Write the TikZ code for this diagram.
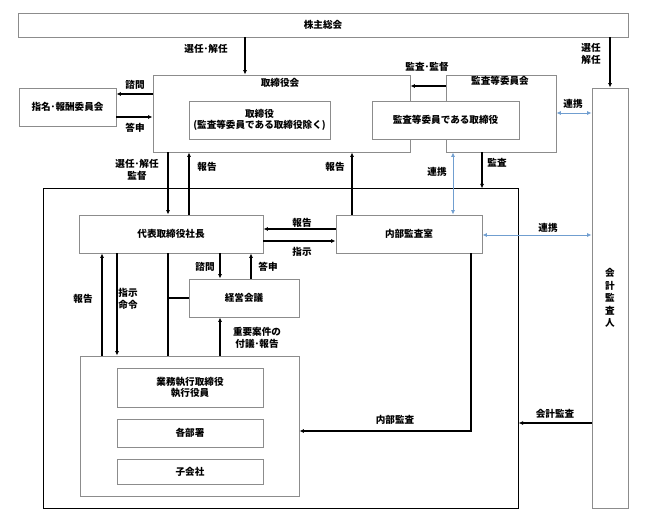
\documentclass[tikz,border=0pt]{standalone}
\usepackage{fontspec}
\setmainfont{Noto Sans CJK JP}
\usetikzlibrary{arrows.meta}
\definecolor{linkblue}{RGB}{112,158,208}
\definecolor{boxgray}{RGB}{140,140,140}

\begin{document}
\begin{tikzpicture}
[%%%%%%%%%%%%%%%%%%%%%%%%%%%%%%
x=1pt,y=-1pt,
box/.style={rectangle,draw=boxgray,line width=0.9pt,inner sep=0pt,align=center},
bigbox/.style={rectangle,draw=black,line width=1pt},
txt/.style={inner sep=0pt,align=center},
arr/.style={-{Latex[length=4.5pt,width=4pt]},line width=1.1pt},
plainline/.style={line width=1.1pt},
link/.style={{Latex[length=4.5pt,width=4pt]}-{Latex[length=4.5pt,width=4pt]},draw=linkblue,line width=0.8pt},
font=\fontsize{9.6}{11.5}\selectfont\bfseries,
]%%%%%%%%%%%%%%%%%%%%%%%%%%%%%%
\useasboundingbox (0,0) rectangle (647,521);

\node[bigbox,minimum width=475pt,minimum height=319pt] (big) at (280.5,348.5){};

\node[box,minimum width=610pt,minimum height=24pt] (soukai) at (323,25){株主総会};
\node[box,minimum width=257pt,minimum height=77pt] (torikai) at (281.5,113.5){};
\node[box,minimum width=110pt,minimum height=77pt] (kansa) at (501,113.5){};
\node[txt] (torilab) at (280,83){取締役会};
\node[txt] (kansalab) at (500,81){監査等委員会};
\node[box,fill=white,minimum width=141pt,minimum height=38pt] (torishimari) at (259.5,120){取締役\\(監査等委員である取締役除く)};
\node[box,fill=white,minimum width=147pt,minimum height=38pt] (kansayaku) at (445.5,120){監査等委員である取締役};
\node[box,minimum width=97pt,minimum height=38pt] (shimei) at (67.5,107){指名･報酬委員会};
\node[box,minimum width=36pt,minimum height=420pt,font=\fontsize{9.6}{12.5}\selectfont\bfseries] (kaikei) at (610,298){会\\計\\監\\査\\人};

\node[box,fill=white,minimum width=184pt,minimum height=38pt] (daihyo) at (171,234){代表取締役社長};
\node[box,fill=white,minimum width=146pt,minimum height=38pt] (naibu) at (409,234){内部監査室};
\node[box,fill=white,minimum width=110pt,minimum height=38pt] (keiei) at (244,298){経営会議};
\node[box,fill=white,minimum width=219pt,minimum height=140pt] (gyomu) at (189.5,426){};
\node[box,minimum width=146pt,minimum height=39pt] (shikkou) at (190,387.5){業務執行取締役\\執行役員};
\node[box,minimum width=146pt,minimum height=28pt] (kakubu) at (190,433){各部署};
\node[box,minimum width=146pt,minimum height=25pt] (kogaisha) at (190,471.5){子会社};

% line positions
\coordinate (vSen) at (245,0);
\coordinate (vKan) at (168,0);
\coordinate (vHo1) at (189,0);
\coordinate (vHo2) at (352,0);
\coordinate (vRen) at (453,0);
\coordinate (vAud) at (482,0);
\coordinate (vHo3) at (102,0);
\coordinate (vShi) at (117,0);
\coordinate (vShm) at (220,0);
\coordinate (vTos) at (251,0);
\coordinate (vNai) at (471,0);
\coordinate (hKan) at (0,86);
\coordinate (hShm) at (0,94);
\coordinate (hTos) at (0,117);
\coordinate (hRen1) at (0,113);
\coordinate (hHo) at (0,229);
\coordinate (hShi) at (0,241);
\coordinate (hRen2) at (0,235);
\coordinate (hNai) at (0,431);
\coordinate (hKai) at (0,423);

% top
\draw[arr] (vSen |- soukai.south) -- (vSen |- torikai.north);
\draw[arr] (soukai.south -| kaikei.north) -- (kaikei.north);
\draw[arr] (kansa.west |- hKan) -- (torikai.east |- hKan);
\draw[arr] (torikai.west |- hShm) -- (shimei.east |- hShm);
\draw[arr] (shimei.east |- hTos) -- (torikai.west |- hTos);
\draw[link] (kansa.east |- hRen1) -- (kaikei.west |- hRen1);

% middle
\draw[arr] (vKan |- torikai.south) -- (vKan |- daihyo.north);
\draw[arr] (vHo1 |- daihyo.north) -- (vHo1 |- torikai.south);
\draw[arr] (vHo2 |- naibu.north) -- (vHo2 |- torikai.south);
\draw[link] (vRen |- kansa.south) -- (vRen |- naibu.north);
\draw[arr] (vAud |- kansa.south) -- (vAud |- big.north);
\draw[arr] (naibu.west |- hHo) -- (daihyo.east |- hHo);
\draw[arr] (daihyo.east |- hShi) -- (naibu.west |- hShi);
\draw[link] (naibu.east |- hRen2) -- (kaikei.west |- hRen2);

% lower
\draw[arr] (vHo3 |- gyomu.north) -- (vHo3 |- daihyo.south);
\draw[arr] (vShi |- daihyo.south) -- (vShi |- gyomu.north);
\draw[plainline] (vKan |- daihyo.south) -- (vKan |- gyomu.north);
\draw[plainline] (vKan |- keiei.west) -- (keiei.west);
\draw[arr] (vShm |- daihyo.south) -- (vShm |- keiei.north);
\draw[arr] (vTos |- keiei.north) -- (vTos |- daihyo.south);
\draw[arr] (vShm |- gyomu.north) -- (vShm |- keiei.south);
\draw[arr] (vNai |- naibu.south) |- (gyomu.east |- hNai);
\draw[arr] (kaikei.west |- hKai) -- (big.east |- hKai);

% labels
\node[txt] (lSen1) at (206,49){選任･解任};
\node[txt] (lSen2) at (591,54){選任\\解任};
\node[txt] (lKan) at (427,67){監査･監督};
\node[txt] (lShm1) at (135,85){諮問};
\node[txt] (lTos1) at (135,128){答申};
\node[txt] (lSen3) at (137,170){選任･解任\\監督};
\node[txt] (lHo1) at (207,167){報告};
\node[txt] (lHo2) at (335,167){報告};
\node[txt] (lRen1) at (437,172){連携};
\node[txt] (lAud) at (497,163){監査};
\node[txt] (lRen2) at (573,104){連携};
\node[txt] (lHo3) at (302,223){報告};
\node[txt] (lShi1) at (302,252){指示};
\node[txt] (lRen3) at (548,228){連携};
\node[txt] (lHo4) at (83,299){報告};
\node[txt] (lShi2) at (128,299){指示\\命令};
\node[txt] (lShm2) at (205,267){諮問};
\node[txt] (lTos2) at (268,267){答申};
\node[txt] (lJyu) at (257,338){重要案件の\\付議･報告};
\node[txt] (lNai) at (395,420){内部監査};
\node[txt] (lKai) at (555,414){会計監査};
\end{tikzpicture}
\end{document}
